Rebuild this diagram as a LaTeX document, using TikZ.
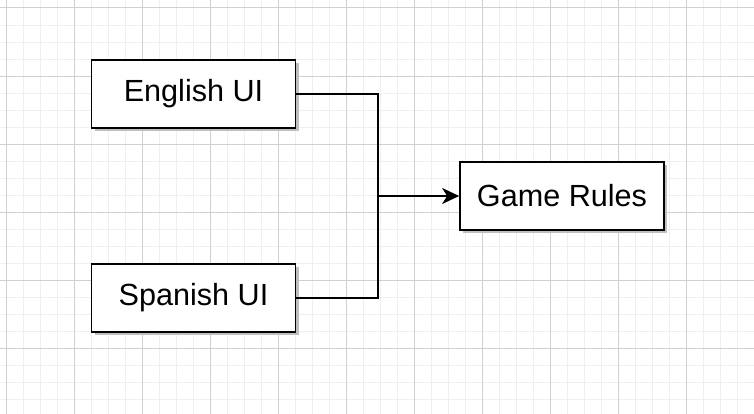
\documentclass[tikz,border=0pt]{standalone}
\usepackage{fontspec}
\setmainfont{Liberation Sans}
\usepackage{tikz}
\usetikzlibrary{positioning,arrows.meta,shadows}

\definecolor{gridminor}{HTML}{EFEFEF}
\definecolor{gridmajor}{HTML}{D0D0D0}

\begin{document}
\begin{tikzpicture}[
  x=1pt, y=-1pt,
  box/.style={rectangle, minimum width=204pt, minimum height=68pt,
              draw=black, line width=1.7pt, fill=white, inner sep=0pt,
              font=\fontsize{30.6}{36}\selectfont,
              drop shadow={shadow xshift=3pt, shadow yshift=-3pt, fill=black!25, opacity=1}},
  link/.style={line width=1.7pt, black},
  arrow/.style={-{Stealth[length=17pt, width=16pt, inset=5pt]}, line width=1.7pt, black}
]
\useasboundingbox (0,0) rectangle (754,414);
\fill[white] (0,0) rectangle (754,414);

% Grid
\foreach \k in {0,...,44} {
  \draw[gridminor, line width=1pt] (6+17.02*\k,0) -- (6+17.02*\k,414);
}
\foreach \k in {0,...,24} {
  \draw[gridminor, line width=1pt] (0,8+17.02*\k) -- (754,8+17.02*\k);
}
\foreach \k in {0,...,11} {
  \draw[gridmajor, line width=1pt] (6+68.08*\k,0) -- (6+68.08*\k,414);
}
\foreach \k in {0,...,6} {
  \draw[gridmajor, line width=1pt] (0,8+68.08*\k) -- (754,8+68.08*\k);
}

% UI boxes
\node[box] (english) at (193.5,94) {English UI};
\node[box] (spanish) at (193.5,298) {Spanish UI};

% Rules
\node[box] (rules) at (562,196) {Game Rules};

% Connectors
\coordinate (join) at (377.7,196);
\draw[link] (english.east) -| (join) |- (spanish.east);
\draw[arrow] (join) -- (rules.west);

\end{tikzpicture}
\end{document}
